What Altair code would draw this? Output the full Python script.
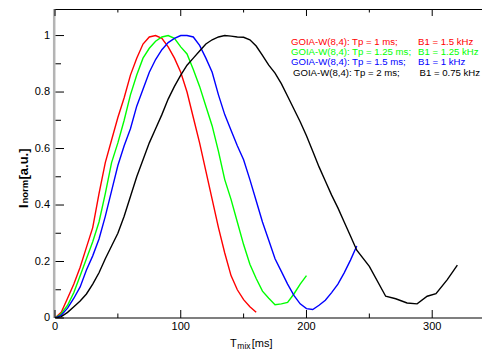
import altair as alt
import pandas as pd

# ---------------- data ----------------
red_x = [0, 5, 10, 15, 20, 25, 30, 35, 40, 45, 50, 55, 60, 65, 70, 75, 80, 85, 90, 95,
         100, 105, 110, 115, 120, 125, 130, 135, 140, 145, 150, 155, 160]
red_y = [0, 0.02, 0.07, 0.12, 0.18, 0.25, 0.32, 0.44, 0.55, 0.63, 0.71, 0.78, 0.86, 0.92,
         0.97, 0.995, 1.0, 0.99, 0.96, 0.92, 0.87, 0.80, 0.71, 0.62, 0.52, 0.42, 0.32,
         0.23, 0.15, 0.10, 0.065, 0.04, 0.02]

green_x = [0, 5, 10, 15, 20, 25, 30, 35, 40, 45, 50, 55, 60, 65, 70, 75, 80, 85, 90, 95,
           100, 105, 110, 115, 120, 125, 130, 135, 140, 145, 150, 155, 160, 165, 170,
           175, 180, 185, 190, 195, 200]
green_y = [0, 0.015, 0.045, 0.09, 0.15, 0.21, 0.27, 0.34, 0.44, 0.55, 0.62, 0.70, 0.79,
           0.86, 0.92, 0.955, 0.98, 0.995, 1.0, 0.99, 0.96, 0.935, 0.88, 0.82, 0.75, 0.68,
           0.59, 0.49, 0.42, 0.34, 0.26, 0.19, 0.14, 0.095, 0.07, 0.047, 0.05, 0.055,
           0.085, 0.12, 0.15]

blue_x = [0, 5, 10, 15, 20, 25, 30, 35, 40, 45, 50, 55, 60, 65, 70, 75, 80, 85, 90, 95,
          100, 105, 110, 115, 120, 125, 130, 135, 140, 145, 150, 155, 160, 165, 170, 175,
          180, 185, 190, 195, 200, 205, 210, 215, 220, 225, 230, 235, 240]
blue_y = [0, 0.01, 0.035, 0.07, 0.11, 0.17, 0.22, 0.28, 0.36, 0.45, 0.54, 0.61, 0.67,
          0.75, 0.81, 0.87, 0.915, 0.95, 0.975, 0.99, 1.0, 1.0, 0.995, 0.965, 0.92, 0.87,
          0.79, 0.72, 0.665, 0.61, 0.56, 0.49, 0.415, 0.34, 0.275, 0.21, 0.165, 0.12,
          0.08, 0.05, 0.033, 0.03, 0.045, 0.063, 0.09, 0.12, 0.16, 0.205, 0.255]

black_x = [0, 5, 10, 15, 20, 25, 30, 35, 40, 45, 50, 55, 60, 65, 70, 75, 80, 85, 90, 95,
           100, 105, 110, 115, 120, 125, 130, 135, 140, 145, 150, 155, 160, 165, 170, 175,
           180, 185, 190, 195, 200, 205, 210, 215, 220, 225, 230, 235, 240, 250, 263, 271,
           280, 288, 296, 303, 312, 320]
black_y = [0, 0.005, 0.02, 0.04, 0.06, 0.085, 0.12, 0.16, 0.21, 0.255, 0.30, 0.36, 0.43,
           0.50, 0.56, 0.62, 0.67, 0.72, 0.775, 0.82, 0.86, 0.895, 0.92, 0.945, 0.97,
           0.985, 0.995, 1.0, 0.998, 0.995, 0.994, 0.985, 0.963, 0.93, 0.895, 0.867, 0.83,
           0.785, 0.74, 0.695, 0.645, 0.59, 0.535, 0.485, 0.435, 0.39, 0.34, 0.29, 0.24,
           0.183, 0.077, 0.068, 0.053, 0.05, 0.077, 0.086, 0.136, 0.187]

series_names = ["Tp = 1 ms", "Tp = 1.25 ms", "Tp = 1.5 ms", "Tp = 2 ms"]
series_colors = ["#ff0000", "#00ff00", "#0000ff", "#000000"]

legend_left = ["GOIA-W(8,4): Tp = 1 ms;", "GOIA-W(8,4): Tp = 1.25 ms;",
               "GOIA-W(8,4): Tp = 1.5 ms;", "GOIA-W(8,4): Tp = 2 ms;"]
legend_right = ["B1 = 1.5 kHz", "B1 = 1.25 kHz", "B1 = 1 kHz", "B1 = 0.75 kHz"]

x_major = [0, 100, 200, 300]
x_minor = [50, 150, 250]
y_major = [0, 0.2, 0.4, 0.6, 0.8, 1.0]
y_minor = [0.1, 0.3, 0.5, 0.7, 0.9]

# ---------------- build ----------------
W, H = 427, 309
FONT = "Liberation Sans"

rows = []
for name, xs, ys in zip(series_names,
                        [red_x, green_x, blue_x, black_x],
                        [red_y, green_y, blue_y, black_y]):
    for i, (a, b) in enumerate(zip(xs, ys)):
        rows.append({"series": name, "t": a, "v": b, "o": i})
df = pd.DataFrame(rows)

xscale = alt.Scale(domain=[0, 339.6], nice=False, zero=False)
yscale = alt.Scale(domain=[0, 1.094], nice=False, zero=False)

# frame lines (drawn first, below curves)
def hline(y, color, width):
    return alt.Chart(pd.DataFrame({"a": [0]})).mark_rule(color=color, strokeWidth=width).encode(
        x=alt.value(0), x2=alt.value(W), y=alt.value(y))

layers = [
    hline(0.5, "black", 1),
    hline(H, "black", 1.2),
    alt.Chart(pd.DataFrame({"a": [0]})).mark_rule(color="#b4b4b4", strokeWidth=2.5).encode(
        x=alt.value(-0.8), y=alt.value(0), y2=alt.value(H)),
]

lines = alt.Chart(df).mark_line(strokeWidth=1.4, clip=True).encode(
    x=alt.X("t:Q", scale=xscale, axis=None),
    y=alt.Y("v:Q", scale=yscale, axis=None),
    color=alt.Color("series:N", scale=alt.Scale(domain=series_names, range=series_colors),
                    legend=None),
    order="o:Q",
)
layers.append(lines)

# inward ticks (left, bottom, top)
def yticks(vals, x0, x1):
    return alt.Chart(pd.DataFrame({"v": vals})).mark_rule(color="black", strokeWidth=1).encode(
        y=alt.Y("v:Q", scale=yscale, axis=None), x=alt.value(x0), x2=alt.value(x1))

def xticks(vals, y0, y1):
    return alt.Chart(pd.DataFrame({"t": vals})).mark_rule(color="black", strokeWidth=1).encode(
        x=alt.X("t:Q", scale=xscale, axis=None), y=alt.value(y0), y2=alt.value(y1))

layers += [
    yticks(y_major, 0.5, 9), yticks(y_minor, 0.5, 6),
    xticks(x_major, H, H - 8), xticks(x_minor, H, H - 4.5),
    xticks(x_major, 0, 7), xticks(x_minor, 0, 3.5),
]

# tick labels
layers.append(alt.Chart(pd.DataFrame({"v": y_major})).mark_text(
    align="right", baseline="middle", font=FONT, fontSize=11, color="black").encode(
    y=alt.Y("v:Q", scale=yscale, axis=None), x=alt.value(-5),
    text=alt.Text("v:Q", format="~g")))
layers.append(alt.Chart(pd.DataFrame({"t": x_major})).mark_text(
    align="center", baseline="middle", font=FONT, fontSize=11, color="black").encode(
    x=alt.X("t:Q", scale=xscale, axis=None), y=alt.value(H + 9),
    text=alt.Text("t:Q", format="d")))

# legend texts
leg_y = [36, 46.2, 56.4, 66.6]
leg_x1 = [236, 236, 236, 238]
leg_x2 = [363, 363, 363, 364.5]
for i in range(4):
    for txt, xx in ((legend_left[i], leg_x1[i]), (legend_right[i], leg_x2[i])):
        layers.append(alt.Chart(pd.DataFrame({"s": [txt]})).mark_text(
            align="left", baseline="alphabetic", font=FONT, fontSize=9.6,
            color=series_colors[i]).encode(
            text="s:N", x=alt.value(xx), y=alt.value(leg_y[i])))

# axis titles with subscripts
def label(txt, x, y, size, bold=False, angle=0):
    kw = dict(align="left", baseline="alphabetic", font=FONT, fontSize=size,
              color="black", fontWeight="bold" if bold else "normal")
    if angle:
        kw["angle"] = angle
    return alt.Chart(pd.DataFrame({"s": [txt]})).mark_text(**kw).encode(
        text="s:N", x=alt.value(x), y=alt.value(y))

layers += [
    label("T", 175, H + 29, 11),
    label("mix", 182.3, H + 30.5, 8.5),
    label("[ms]", 196.7, H + 29, 11),
    label("I", -27.5, 199, 13, True, 270),
    label("norm", -27, 194.5, 9.5, True, 270),
    label(" [a.u.]", -27.5, 170.5, 13, True, 270),
]

chart = alt.layer(*layers).properties(
    width=W, height=H,
    autosize=alt.AutoSizeParams(type="none"),
    padding={"left": 47, "top": 1, "right": 0, "bottom": 42},
    background="white",
).configure_view(stroke=None)

chart.save("out.html", embed_options={"renderer": "svg", "actions": False})
